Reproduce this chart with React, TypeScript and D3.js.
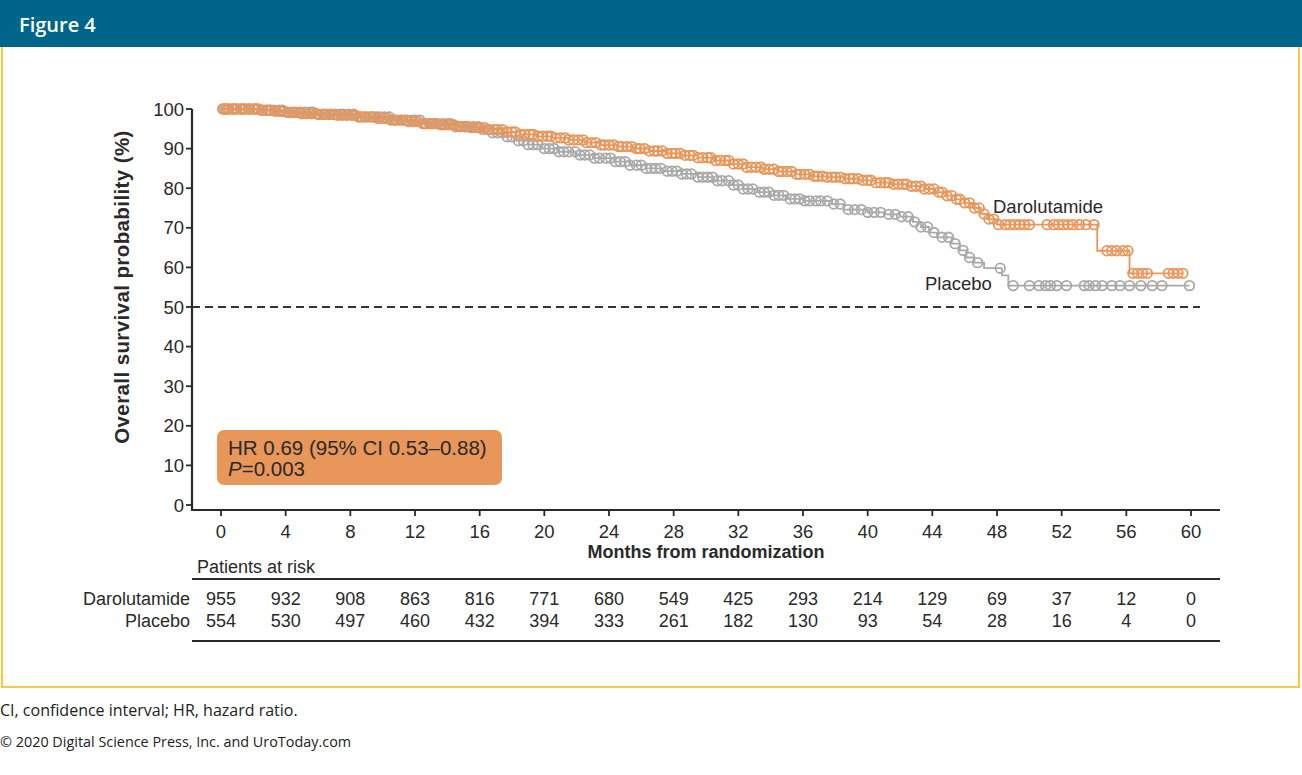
import React from "react";
import * as d3 from "d3";

// Axis ticks
const xTicks = [0, 4, 8, 12, 16, 20, 24, 28, 32, 36, 40, 44, 48, 52, 56, 60];
const yTicks = [0, 10, 20, 30, 40, 50, 60, 70, 80, 90, 100];

// Patients at risk at each x tick
const darolutamideAtRisk = [955, 932, 908, 863, 816, 771, 680, 549, 425, 293, 214, 129, 69, 37, 12, 0];
const placeboAtRisk = [554, 530, 497, 460, 432, 394, 333, 261, 182, 130, 93, 54, 28, 16, 4, 0];

// Kaplan-Meier steps: [month, survival %]
const darolutamideSteps: [number, number][] = [
  [0, 100], [2.5, 99.7], [3.2, 99.4], [4.0, 99.1], [5.0, 98.8], [6.0, 98.6], [7.2, 98.4],
  [8.5, 98.0], [9.5, 97.6], [10.5, 97.2], [11.5, 96.8], [12.5, 96.3], [13.5, 96.0],
  [14.5, 95.6], [15.5, 95.3], [16.5, 94.8], [17.5, 94.2], [18.5, 93.6], [19.5, 93.1],
  [20.5, 92.7], [21.5, 92.2], [22.5, 91.5], [23.5, 90.9], [24.5, 90.5], [25.5, 90.0],
  [26.5, 89.4], [27.5, 88.8], [28.5, 88.3], [29.5, 87.7], [30.5, 87.0], [31.5, 86.1],
  [32.5, 85.3], [33.5, 84.8], [34.5, 84.2], [35.5, 83.5], [36.5, 83.0], [37.5, 82.8],
  [38.5, 82.4], [39.5, 82.0], [40.5, 81.4], [41.5, 81.0], [42.5, 80.5], [43.5, 79.8],
  [44.2, 79.0], [44.8, 78.1], [45.4, 77.2], [46.0, 76.3], [46.5, 75.0], [47.0, 73.5],
  [47.4, 72.2], [48.0, 70.8], [54.2, 64.2], [56.2, 58.5],
];
const darolutamideEnd = 59.5;

const placeboSteps: [number, number][] = [
  [0, 100], [2.5, 99.7], [4.0, 99.2], [6.0, 98.7], [8.5, 98.0], [10.5, 97.2], [12.5, 96.3],
  [14.5, 95.5], [16.0, 94.8], [16.8, 94.0], [17.5, 93.0], [18.2, 92.0], [19.0, 91.0],
  [19.8, 90.0], [20.8, 89.2], [22.0, 88.4], [23.0, 87.6], [24.3, 86.7], [25.3, 85.8],
  [26.3, 85.0], [27.3, 84.3], [28.5, 83.6], [29.5, 82.8], [30.5, 81.9], [31.5, 80.8],
  [32.3, 79.8], [33.2, 79.0], [34.0, 78.2], [35.0, 77.3], [36.0, 76.8], [37.8, 76.0],
  [38.5, 74.6], [40.0, 73.9], [41.0, 73.4], [42.0, 72.8], [42.8, 71.5], [43.3, 70.2],
  [43.8, 68.8], [44.3, 67.6], [45.2, 66.0], [45.7, 64.3], [46.1, 62.5], [46.6, 61.2],
  [47.2, 59.8], [48.3, 58.0], [48.7, 55.4],
];
const placeboEnd = 59.9;

// Censoring times (months)
const darolutamideCensor = [
  0.1, 0.3, 0.5, 0.8, 1.0, 1.3, 1.5, 1.8, 2.1, 2.3, 2.6, 2.9, 3.1, 3.4, 3.7, 3.9, 4.2, 4.5,
  4.8, 5.0, 5.3, 5.6, 5.9, 6.1, 6.4, 6.7, 7.0, 7.2, 7.5, 7.8, 8.1, 8.3, 8.6, 8.9, 9.2, 9.4,
  9.7, 10.0, 10.3, 10.5, 10.8, 11.1, 11.4, 11.6, 11.9, 12.2, 12.5, 12.7, 13.0, 13.3, 13.6,
  13.8, 14.1, 14.4, 14.7, 14.9, 15.2, 15.5, 15.8, 16.0, 16.3, 16.6, 16.9, 17.1, 17.4, 17.7,
  18.0, 18.2, 18.5, 18.8, 19.1, 19.3, 19.6, 19.9, 20.2, 20.4, 20.7, 21.0, 21.3, 21.5, 21.8,
  22.1, 22.4, 22.6, 22.9, 23.2, 23.5, 23.7, 24.0, 24.3, 24.6, 24.8, 25.1, 25.4, 25.7, 25.9,
  26.2, 26.5, 26.8, 27.0, 27.3, 27.6, 27.9, 28.1, 28.4, 28.7, 29.0, 29.2, 29.5, 29.8, 30.1,
  30.3, 30.6, 30.9, 31.2, 31.4, 31.7, 32.0, 32.3, 32.5, 32.8, 33.1, 33.4, 33.6, 33.9, 34.2,
  34.5, 34.7, 35.0, 35.3, 35.6, 35.8, 36.1, 36.4, 36.7, 36.9, 37.2, 37.5, 37.8, 38.0, 38.3,
  38.6, 38.9, 39.1, 39.4, 39.7, 40.0, 40.2, 40.5, 40.8, 41.1, 41.3, 41.6, 41.9, 42.2, 42.4,
  42.7, 43.0, 43.3, 43.5, 43.8, 44.1, 44.4, 44.6, 44.9, 45.2, 45.5, 45.7, 46.0, 46.3, 46.6,
  46.9, 47.2, 47.5, 47.8, 48.1, 48.5, 48.8, 49.1, 49.4, 49.7, 50.0, 51.1, 51.5, 51.8, 52.1,
  52.4, 52.7, 53.1, 53.5, 54.0, 54.8, 55.1, 55.4, 55.8, 56.1, 56.4, 56.7, 57.0, 57.3, 58.6,
  58.9, 59.2, 59.5,
];

const placeboCensor = [
  0.2, 0.4, 0.7, 0.9, 1.2, 1.4, 1.7, 2.0, 2.2, 2.5, 2.8, 3.0, 3.3, 3.6, 3.8, 4.1, 4.4, 4.6,
  4.9, 5.2, 5.5, 5.7, 6.0, 6.3, 6.5, 6.8, 7.1, 7.4, 7.6, 7.9, 8.2, 8.5, 8.7, 9.0, 9.3, 9.6,
  9.8, 10.1, 10.4, 10.7, 10.9, 11.2, 11.5, 11.8, 12.0, 12.3, 12.6, 12.9, 13.1, 13.4, 13.7,
  14.0, 14.2, 14.5, 14.8, 15.1, 15.3, 15.6, 15.9, 16.2, 16.5, 16.8, 17.1, 17.4, 17.7, 18.0,
  18.4, 18.7, 19.0, 19.3, 19.6, 20.0, 20.3, 20.6, 20.9, 21.2, 21.5, 21.9, 22.2, 22.5, 22.8,
  23.1, 23.4, 23.8, 24.1, 24.4, 24.7, 25.0, 25.3, 25.7, 26.0, 26.3, 26.6, 26.9, 27.2, 27.6,
  27.9, 28.2, 28.5, 28.8, 29.1, 29.5, 29.8, 30.1, 30.4, 30.7, 31.0, 31.4, 31.7, 32.0, 32.3,
  32.6, 32.9, 33.3, 33.6, 33.9, 34.2, 34.5, 34.8, 35.2, 35.5, 35.8, 36.1, 36.4, 36.8, 37.1,
  37.5, 37.9, 38.3, 38.8, 39.2, 39.6, 40.0, 40.4, 40.8, 41.3, 41.7, 42.1, 42.5, 42.9, 43.3,
  43.7, 44.1, 44.6, 45.0, 45.4, 45.9, 46.3, 46.8, 48.2, 49.0, 50.0, 50.6, 51.0, 51.3, 51.7,
  52.3, 53.4, 53.7, 54.1, 54.5, 55.1, 55.6, 56.2, 56.9, 57.6, 58.2, 59.9,
];

const W = 1302;
const H = 775;
const FONT = "'Liberation Sans', Arial, Helvetica, sans-serif";
const SITE_FONT = "'Open Sans', 'Noto Sans', sans-serif";
const ORANGE = "#E8965A";
const GREY = "#A9A9A9";
const INK = "#2a2a2a";

const x = d3.scaleLinear().domain([0, 60]).range([221, 1191]);
const y = d3.scaleLinear().domain([0, 100]).range([505, 109]);

const stepLine = d3
  .line<[number, number]>()
  .x((d) => x(d[0]))
  .y((d) => y(d[1]))
  .curve(d3.curveStepAfter);

function kmPath(steps: [number, number][], end: number) {
  const pts = [...steps, [end, steps[steps.length - 1][1]] as [number, number]];
  return stepLine(pts) || "";
}

function survivalAt(steps: [number, number][], t: number) {
  let s = steps[0][1];
  for (const [tt, v] of steps) {
    if (tt <= t) s = v;
    else break;
  }
  return s;
}

function Curve({ steps, end, censor, color }: { steps: [number, number][]; end: number; censor: number[]; color: string }) {
  return (
    <g>
      <path d={kmPath(steps, end)} fill="none" stroke={color} strokeWidth={1.8} />
      {censor.map((t, i) => (
        <circle key={i} cx={x(t)} cy={y(survivalAt(steps, t))} r={4.8} fill="none" stroke={color} strokeWidth={1.8} />
      ))}
    </g>
  );
}

export default function App() {
  const axisLeft = 192;
  const axisBottom = 510;
  const axisRight = 1220;
  const riskTop = 579;
  const riskBottom = 641;

  return (
    <svg width={W} height={H} style={{ position: "absolute", left: 0, top: 0, background: "#fff" }}>
      {/* header band */}
      <rect x={0} y={0} width={W} height={47} fill="#00658A" />
      <text x={19} y={32} fill="#fff" fontFamily={SITE_FONT} fontWeight={600} fontSize={20}>
        Figure 4
      </text>
      {/* figure frame */}
      <path d={`M2,47 V687 H1299 V47`} fill="none" stroke="#FDC93A" strokeWidth={2} />

      <g fontFamily={FONT} fill={INK}>
        {/* y axis */}
        <line x1={axisLeft} x2={axisLeft} y1={y(100)} y2={axisBottom} stroke={INK} strokeWidth={2.2} />
        {yTicks.map((t) => (
          <g key={t}>
            <line x1={axisLeft - 6} x2={axisLeft} y1={y(t)} y2={y(t)} stroke={INK} strokeWidth={1.8} />
            <text x={axisLeft - 8} y={y(t) + 6.5} textAnchor="end" fontSize={18.5}>
              {t}
            </text>
          </g>
        ))}
        <text
          transform={`translate(129,287) rotate(-90)`}
          textAnchor="middle"
          fontSize={20.5}
          fontWeight="bold"
          letterSpacing={0.4}
        >
          Overall survival probability (%)
        </text>

        {/* x axis */}
        <line x1={axisLeft - 1} x2={axisRight} y1={axisBottom} y2={axisBottom} stroke={INK} strokeWidth={2.2} />
        {xTicks.map((t) => (
          <g key={t}>
            <line x1={x(t)} x2={x(t)} y1={axisBottom} y2={axisBottom + 6} stroke={INK} strokeWidth={1.8} />
            <text x={x(t)} y={538} textAnchor="middle" fontSize={18.5}>
              {t}
            </text>
          </g>
        ))}
        <text x={706} y={558} textAnchor="middle" fontSize={18} fontWeight="bold">
          Months from randomization
        </text>

        {/* median reference */}
        <line x1={axisLeft} x2={1200} y1={y(50)} y2={y(50)} stroke="#333" strokeWidth={2} strokeDasharray="8,5" />

        {/* survival curves */}
        <Curve steps={placeboSteps} end={placeboEnd} censor={placeboCensor} color={GREY} />
        <Curve steps={darolutamideSteps} end={darolutamideEnd} censor={darolutamideCensor} color={ORANGE} />

        <text x={993} y={213} fontSize={18.5}>Darolutamide</text>
        <text x={925} y={290} fontSize={18.5}>Placebo</text>

        {/* hazard ratio box */}
        <rect x={217} y={430} width={285} height={55} rx={7} fill={ORANGE} />
        <text x={228} y={455} fontSize={20.5}>HR 0.69 (95% CI 0.53–0.88)</text>
        <text x={228} y={476} fontSize={20.5}>
          <tspan fontStyle="italic">P</tspan>=0.003
        </text>

        {/* patients at risk */}
        <text x={197} y={573} fontSize={18}>Patients at risk</text>
        <line x1={axisLeft} x2={axisRight} y1={riskTop} y2={riskTop} stroke={INK} strokeWidth={2.2} />
        <text x={190} y={605} textAnchor="end" fontSize={18}>Darolutamide</text>
        <text x={190} y={627} textAnchor="end" fontSize={18}>Placebo</text>
        {xTicks.map((t, i) => (
          <g key={t}>
            <text x={x(t)} y={605} textAnchor="middle" fontSize={18}>{darolutamideAtRisk[i]}</text>
            <text x={x(t)} y={627} textAnchor="middle" fontSize={18}>{placeboAtRisk[i]}</text>
          </g>
        ))}
        <line x1={axisLeft} x2={axisRight} y1={riskBottom} y2={riskBottom} stroke={INK} strokeWidth={2.2} />
      </g>

      {/* footnotes */}
      <text x={0} y={716} fontFamily={SITE_FONT} fontSize={16} fill="#222">
        CI, confidence interval; HR, hazard ratio.
      </text>
      <text x={0} y={747} fontFamily={SITE_FONT} fontSize={14.4} fill="#222">
        © 2020 Digital Science Press, Inc. and UroToday.com
      </text>
    </svg>
  );
}
